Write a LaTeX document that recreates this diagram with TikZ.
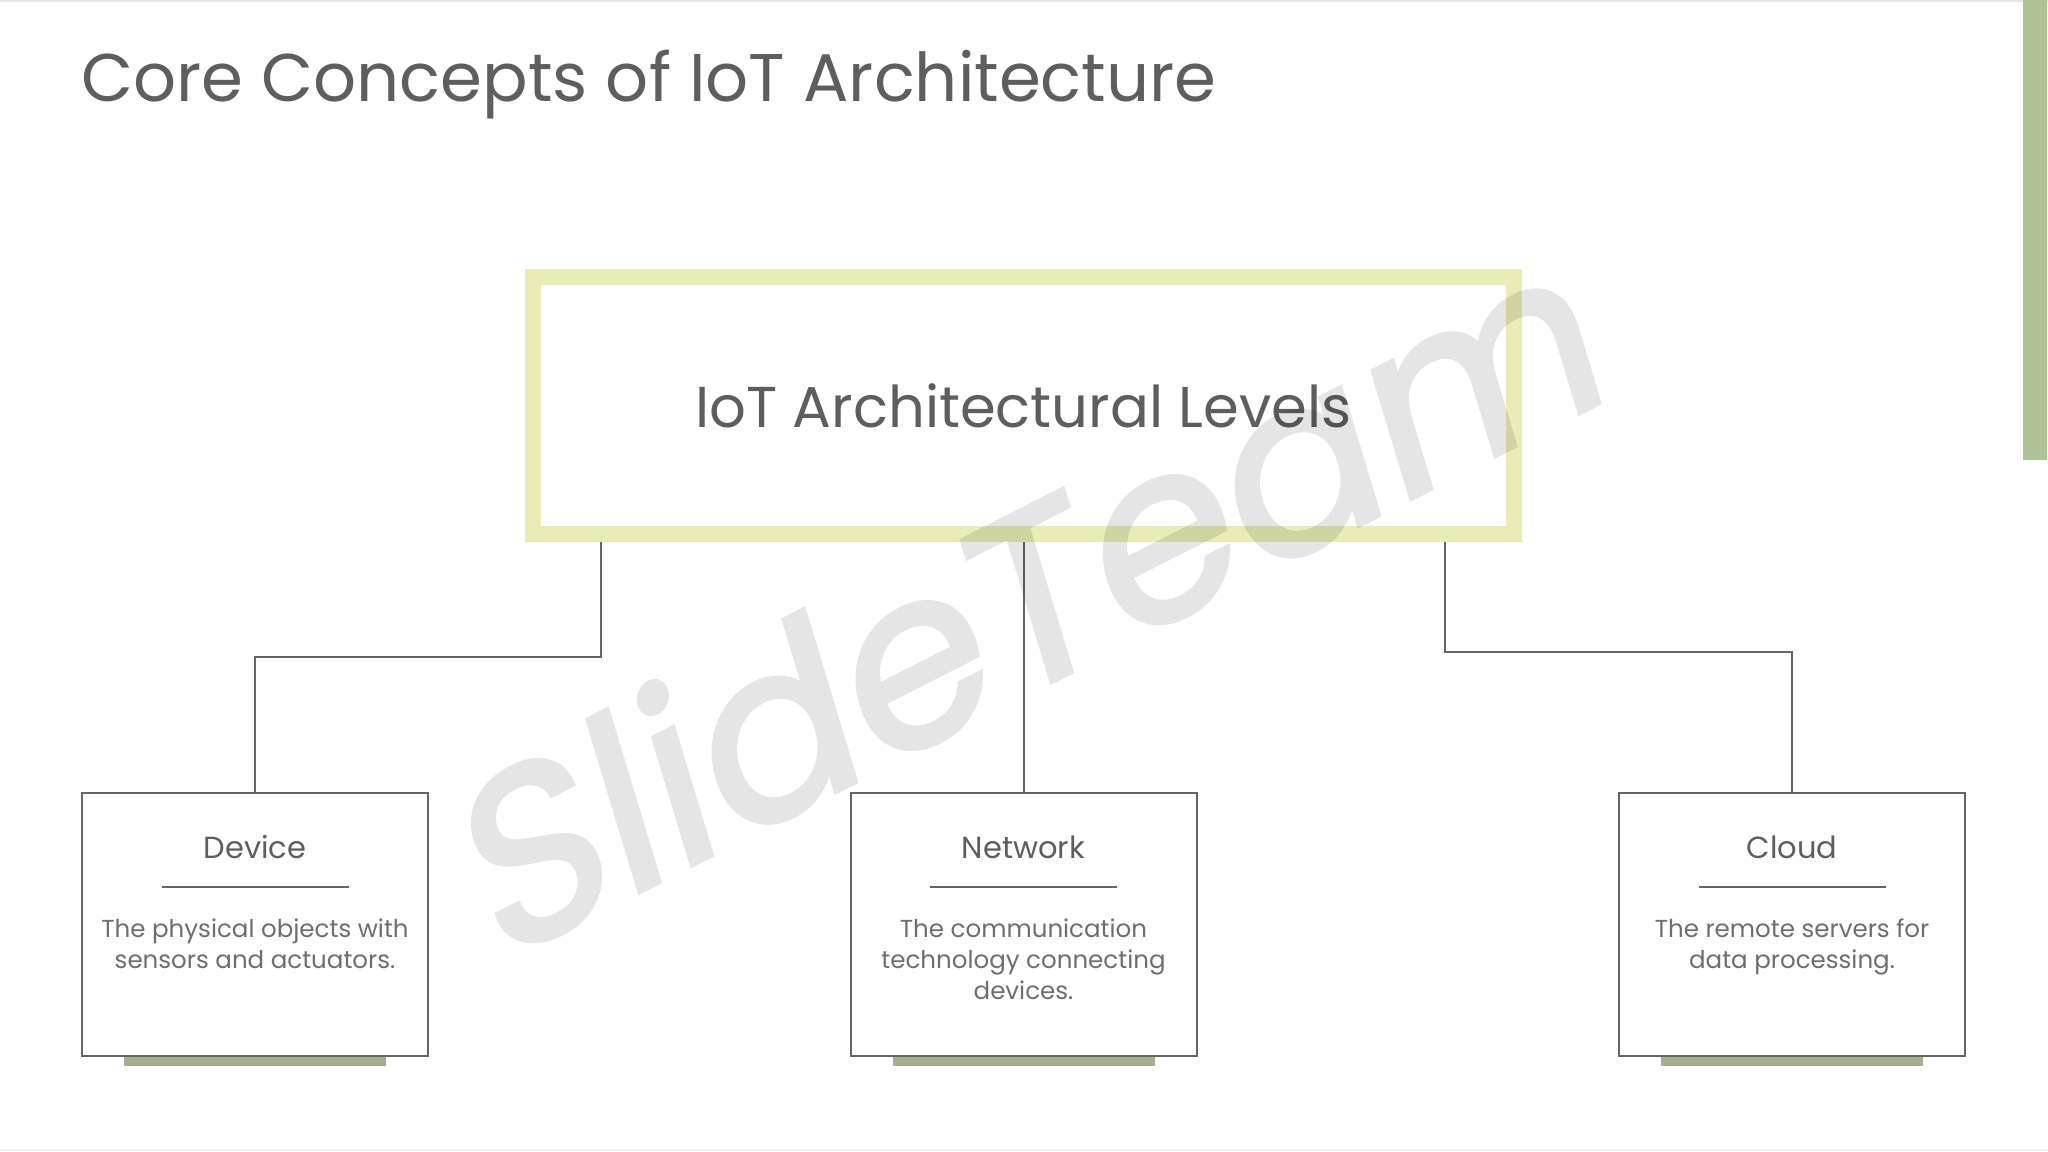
\documentclass[tikz,border=0pt]{standalone}
\usepackage{fontspec}
\setmainfont{Poppins}
\newfontfamily\wmfont{Poppins}[FakeBold=2]
\newlength\px
\setlength\px{0.46875pt}
\definecolor{framey}{HTML}{EAECB5}
\definecolor{linegray}{HTML}{666666}
\definecolor{textgray}{HTML}{5E5E5E}
\definecolor{sidegreen}{HTML}{AEC496}
\definecolor{footgreen}{HTML}{A3AF8F}

\begin{document}
\begin{tikzpicture}[
x=\px, y=-\px,
level/.style = {draw=framey, line width=16\px, inner sep=0pt,
minimum width=981\px, minimum height=257\px,
font=\fontsize{27}{32}\selectfont, text=textgray},
leaf/.style = {draw=linegray, line width=2\px, fill=white, inner sep=0pt,
minimum width=346\px, minimum height=263\px},
leaftitle/.style = {anchor=base, inner sep=0pt, text=textgray,
font=\fontsize{14.3}{17}\selectfont},
leaftext/.style = {anchor=base, inner sep=0pt, align=center, text=textgray!90,
font=\fontsize{11.5}{14.5}\selectfont},
link/.style = {draw=linegray, line width=2\px},
footbar/.style = {fill=footgreen},
watermark/.style = {text=black, inner sep=0pt,
font=\wmfont\fontsize{112}{112}\selectfont}
                        ]
\useasboundingbox (0,0) rectangle (2048,1152);

% slide edges
\draw[gray!18, line width=2\px] (0,1) -- (2048,1);
\draw[gray!10, line width=2\px] (0,1150) -- (2048,1150);
\fill[sidegreen] (2023,0) rectangle (2047,460);

% title
\node[anchor=base west, inner sep=0pt, text=textgray,
font=\fontsize{31.6}{38}\selectfont] (title) at (81,102)
{Core Concepts of IoT Architecture};

% top box
\node[level] (levels) at (1023.5,405.5) {IoT Architectural Levels};

% bottom boxes
\node[leaf] (device) at (255,924.5) {};
\node[leaf] (network) at (1023.5,924.5) {};
\node[leaf] (cloud) at (1792,924.5) {};

\fill[footbar] ([xshift=-131\px]device.south) rectangle ([shift={(131,9)}]device.south);
\fill[footbar] ([xshift=-131\px]network.south) rectangle ([shift={(131,9)}]network.south);
\fill[footbar] ([xshift=-131\px]cloud.south) rectangle ([shift={(131,9)}]cloud.south);

% connectors
\draw[link] ([xshift=76\px]levels.south west) -- ++(0,115) -| (device.north);
\draw[link] (levels.south) -- (network.north);
\draw[link] ([xshift=-77\px]levels.south east) -- ++(0,110) -| (cloud.north);

% device (base = last line)
\node[leaftitle] (devicetitle) at (255,858) {Device};
\draw[link] ([shift={(-93.5,95)}]device.north) -- ([shift={(93.5,95)}]device.north);
\node[leaftext] (devicetext) at (255,968) {The physical objects with\\sensors and actuators.};

% network
\node[leaftitle] (networktitle) at (1023.5,858) {Network};
\draw[link] ([shift={(-93.5,95)}]network.north) -- ([shift={(93.5,95)}]network.north);
\node[leaftext] (networktext) at (1023.5,999) {The communication\\technology connecting\\devices.};

% cloud
\node[leaftitle] (cloudtitle) at (1792,858) {Cloud};
\draw[link] ([shift={(-93.5,95)}]cloud.north) -- ([shift={(93.5,95)}]cloud.north);
\node[leaftext] (cloudtext) at (1792,968) {The remote servers for\\data processing.};

% watermark
\begin{scope}[transparency group, opacity=0.1]
\node[watermark, rotate=27, xslant=0.18] (wm) at (1030,592) {SlideTeam};
\end{scope}

\end{tikzpicture}
\end{document}
